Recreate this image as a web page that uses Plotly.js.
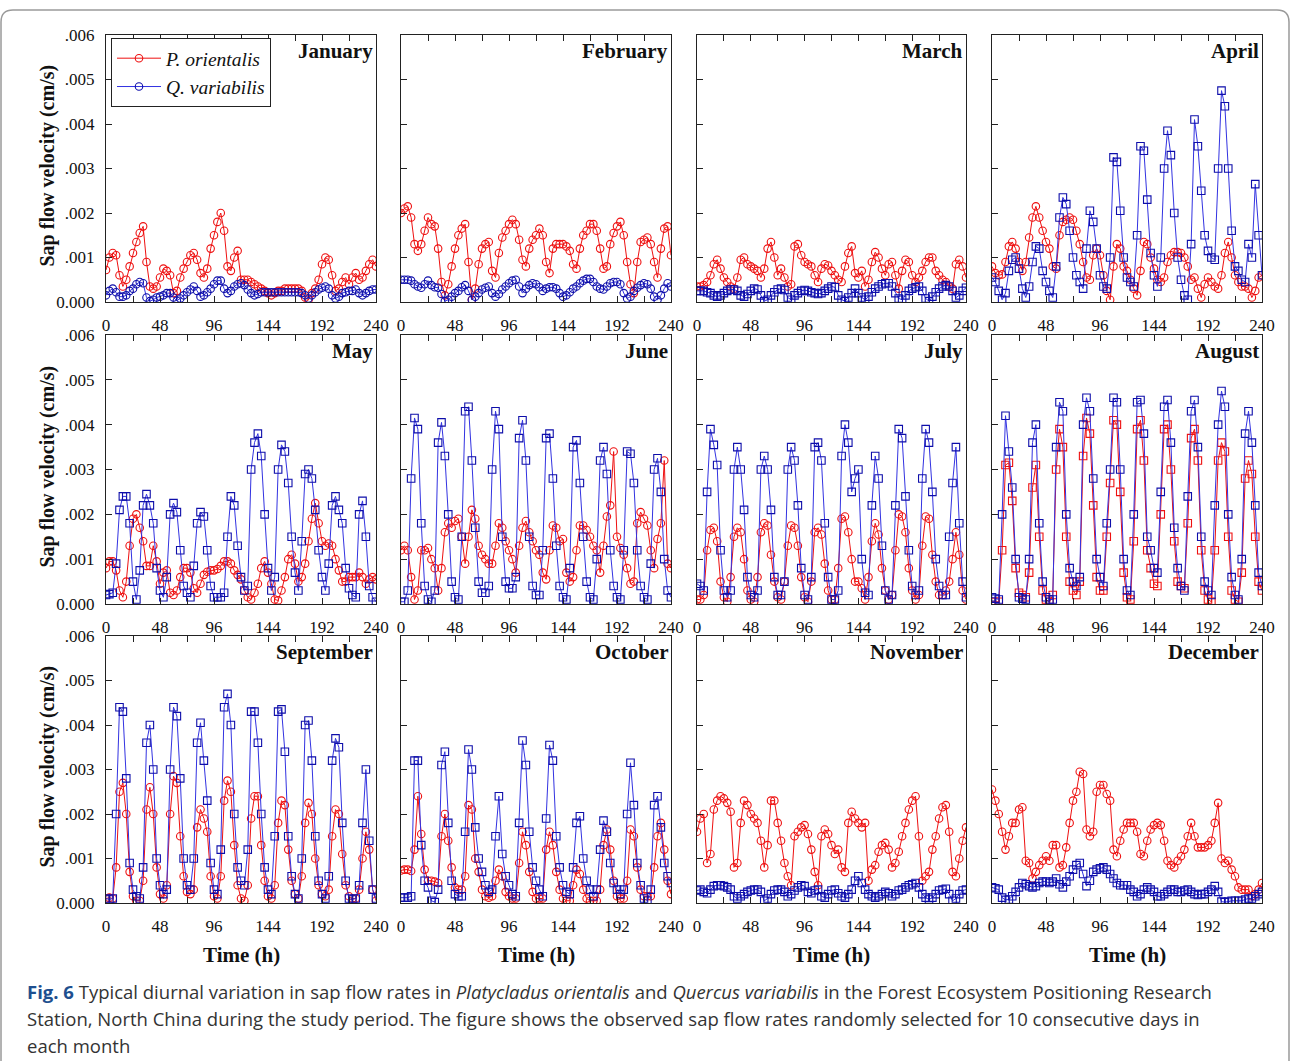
<!DOCTYPE html>
<html>
<head>
<meta charset="utf-8">
<script src="https://cdn.plot.ly/plotly-3.0.1.min.js"></script>
<style>html,body{margin:0;padding:0;background:#fff;}#chart{width:1290px;height:1061px;}</style>
</head>
<body>
<div id="chart"></div>
<script>
// ---- Data (sap flow velocity, cm/s), sampled every 3 h over 10 consecutive days ----
const hours = [0,3,6,9,12,15,18,21,24,27,30,33,36,39,42,45,48,51,54,57,60,63,66,69,72,75,78,81,84,87,90,93,96,99,102,105,108,111,114,117,120,123,126,129,132,135,138,141,144,147,150,153,156,159,162,165,168,171,174,177,180,183,186,189,192,195,198,201,204,207,210,213,216,219,222,225,228,231,234,237,240];

const monthNames = ['January','February','March','April','May','June','July','August','September','October','November','December'];
const seriesNames = ['P. orientalis','Q. variabilis'];
const xTickVals = [0,24,48,72,96,120,144,168,192,216,240];
const xTickLabels = ['0','','48','','96','','144','','192','','240'];
const yTickVals = [0,0.001,0.002,0.003,0.004,0.005,0.006];
const yTickLabels = ['0.000','.001','.002','.003','.004','.005','.006'];

const pJan = [.00072,.001,.0011,.00105,.0006,.00035,.0005,.0008,
.0011,.00135,.00155,.0017,.0009,.00035,.0003,.00035,
.00055,.00075,.0007,.0006,.0002,.00025,.00055,.00075,
.0009,.00105,.0011,.00095,.00065,.00055,.00075,.0012,
.0015,.0018,.002,.0016,.0008,.0007,.001,.00115,
.0005,.0005,.0005,.00045,.0004,.00035,.0003,.00025,
.0002,.00015,.0002,.00025,.00025,.0003,.0003,.0003,
.0003,.0003,.00025,.0001,.00005,.0002,.0003,.0005,
.00085,.001,.00095,.0006,.00025,.0003,.00045,.00055,
.0004,.00055,.00065,.0005,.00055,.0007,.00085,.00095,
.0008];
const qJan = [.00015,.00025,.0003,.00022,.00012,.00012,.00015,.00025,
.0003,.0004,.00045,.00042,.0001,.00002,.00005,.0001,
.00012,.00015,.0002,.0002,.0001,.00003,.00008,.00015,
.00022,.00028,.00035,.00025,.00012,.00015,.00022,.0003,
.0004,.00048,.00048,.0003,.0002,.00025,.00035,.0004,
.00042,.00038,.00028,.0002,.00015,.00018,.00022,.00022,
.00022,.00022,.00022,.00022,.00022,.00022,.00022,.00022,
.00022,.00022,.0002,.00015,.00008,.00015,.00022,.00028,
.00032,.00035,.0003,.00015,.00008,.00012,.0002,.00022,
.00025,.00025,.00028,.0002,.00015,.0002,.00025,.00028,
.00028];
const pFeb = [.002,.0021,.00215,.0019,.0013,.00115,.0013,.0016,
.0019,.00175,.0017,.0012,.00045,.00015,.0004,.0008,
.0012,.0015,.00165,.00175,.0009,.00005,.0003,.00085,
.0012,.0013,.00135,.0007,.00055,.0011,.00145,.0016,
.00175,.00185,.00175,.0014,.00095,.0008,.0012,.0014,
.0015,.00165,.0015,.0009,.00065,.0012,.0013,.0013,
.0013,.00125,.00115,.00085,.00075,.0012,.0015,.0016,
.00175,.00175,.0016,.0012,.00075,.0008,.0013,.00155,
.0017,.0018,.0015,.0009,.0004,.0002,.0009,.00135,
.0014,.00145,.0013,.0009,.00055,.0012,.00165,.0017,
.00105];
const qFeb = [.0005,.0005,.0005,.00048,.0004,.00035,.00032,.0004,
.00048,.00038,.00033,.00032,.00018,.00002,.00005,.00012,
.0002,.00025,.00033,.00038,.00025,.00005,.00012,.0002,
.00028,.00032,.00035,.0002,.00012,.00018,.00028,.00035,
.00042,.00048,.0005,.00035,.0002,.0003,.00038,.00042,
.0004,.00033,.00025,.0003,.00033,.00033,.0003,.0002,
.00012,.00015,.00022,.0003,.00035,.00042,.00048,.00052,
.00052,.00045,.00035,.0003,.00028,.00035,.00042,.00045,
.00045,.0004,.0002,.00008,.00012,.00025,.00032,.00038,
.00042,.0004,.0003,.00012,.00005,.00015,.0003,.00042,
.00035];
const pMar = [.00035,.00035,.00038,.00045,.0006,.00085,.00095,.00075,
.00055,.00045,.00035,.0003,.00055,.00095,.001,.00085,
.0008,.00075,.0007,.00055,.00075,.0012,.00135,.001,
.0006,.00075,.00055,.00035,.0004,.00125,.0013,.00105,
.0009,.00085,.0008,.0006,.00045,.00075,.00085,.00082,
.0007,.0006,.0005,.00045,.0008,.0011,.00125,.00065,
.00055,.0007,.00035,.0005,.0009,.00112,.001,.00075,
.0006,.00085,.0009,.0006,.0003,.0007,.00095,.0009,
.0006,.00045,.00055,.0007,.0009,.001,.001,.0007,
.0006,.0005,.00045,.00035,.0003,.00085,.00095,.0008,
.00055];
const qMar = [.00025,.00025,.00025,.00022,.0002,.00015,.00012,.00015,
.0002,.00025,.00028,.00028,.00025,.00015,.00012,.00018,
.00025,.0003,.00028,.00015,.00002,.00005,.00015,.00022,
.00028,.0003,.00027,.0001,.00005,.00015,.0002,.00025,
.00027,.00025,.00022,.0002,.00018,.0002,.00025,.0003,
.00035,.00033,.00015,.00005,.00002,.0001,.0002,.0003,
.0002,.0001,.00005,.00012,.00022,.0003,.00035,.0004,
.00042,.00042,.00035,.0002,.00008,.00005,.00015,.00025,
.0003,.00033,.00035,.00025,.00008,.00002,.00012,.00022,
.0003,.00035,.00038,.00035,.00025,.0001,.00015,.00025,
.00032];
const pApr = [.0008,.00065,.0006,.00062,.0009,.00125,.00135,.0012,
.0009,.0007,.0009,.00145,.0019,.00215,.0019,.0016,
.00135,.0012,.0008,.00075,.0015,.0018,.00185,.0019,
.00185,.0016,.0013,.0009,.00055,.0005,.00105,.0012,
.00105,.0006,.00025,.00005,.0008,.0013,.0012,.0008,
.0007,.0005,.0003,.00015,.0007,.00135,.0013,.001,
.00075,.0005,.00045,.00055,.0009,.00105,.00112,.00112,
.0011,.001,.0008,.0005,.00055,.0003,.0001,.0004,
.00055,.00045,.00035,.0003,.0006,.0011,.00135,.001,
.0006,.00045,.00035,.00035,.0003,.0001,.00025,.00055,
.0006];
const qApr = [.00055,.00045,.00025,.00005,.0002,.0007,.00095,.001,
.00075,.0003,.0001,.00035,.0009,.00125,.0012,.0007,
.00045,.00025,.0001,.0008,.0019,.00235,.0022,.0016,
.001,.0006,.00045,.0003,.0012,.00205,.0018,.0012,
.0006,.00035,.0003,.001,.00325,.00315,.00205,.001,
.00055,.00045,.00035,.0015,.0035,.0034,.0023,.0011,
.0006,.00035,.001,.003,.00385,.0033,.002,.001,
.0005,.00015,.00005,.0013,.0041,.0035,.0025,.0015,
.00115,.001,.00095,.003,.00475,.0044,.003,.0016,
.0008,.0007,.0005,.00045,.0013,.001,.00265,.0015,
.0006];
const pMay = [.0008,.00095,.00095,.00075,.0003,.00015,.0005,.0013,
.0019,.002,.0017,.0014,.00085,.00085,.0013,.00095,
.00045,.0007,.00075,.00025,.0002,.0003,.0006,.0008,
.0008,.0007,.00035,.00025,.00045,.00065,.00072,.00075,
.00075,.00078,.00085,.00095,.00095,.0009,.00075,.00065,
.00055,.0003,.00015,.0001,.00025,.00045,.0008,.00095,
.0007,.00045,.0001,.00008,.0003,.0006,.001,.0011,
.0009,.0005,.0006,.0009,.0014,.0019,.00225,.0018,
.0014,.0013,.00135,.0013,.001,.00075,.0005,.0005,
.0006,.0006,.0006,.0007,.0006,.00045,.00055,.0006,
.00055];
const qMay = [.0002,.00022,.00025,.0009,.0021,.0024,.0024,.0018,
.0005,.0001,.00075,.0022,.00245,.0022,.0018,.0008,
.0003,.00015,.0006,.002,.00225,.00205,.0012,.0004,
.00025,.00015,.00085,.0018,.00205,.00195,.0012,.0004,
.00015,.00015,.00015,.00025,.0015,.0024,.0022,.0013,
.0006,.0003,.0004,.003,.0036,.0038,.0033,.002,
.0008,.0003,.0006,.003,.00355,.0034,.0027,.0015,
.0007,.0003,.0014,.0029,.003,.0028,.0021,.0012,
.0006,.0003,.0009,.0022,.0024,.0021,.0018,.0008,
.00035,.0002,.00015,.002,.0023,.0015,.0004,.00015,
.00005];
const pJun = [.0012,.0013,.0012,.0006,.0001,.0003,.0012,.0012,
.00125,.001,.0008,.0003,.0008,.0016,.0018,.0017,
.00185,.0019,.0015,.0009,.0015,.0021,.0019,.0013,
.0011,.001,.0009,.0009,.0013,.0018,.0017,.0014,
.0012,.001,.0007,.0013,.0017,.00185,.0016,.0014,
.0012,.0011,.0007,.00055,.0012,.00175,.0017,.0014,
.00145,.0007,.0005,.0006,.0012,.00175,.00175,.00165,
.0015,.0013,.0012,.0007,.0013,.00195,.0022,.0034,
.0015,.00125,.0011,.0008,.00045,.0005,.0018,.00205,
.0019,.00175,.0012,.0008,.00145,.0018,.0032,.0009,
.0008];
const qJun = [.00005,.00005,.0003,.0028,.00415,.0039,.0018,.0004,
.0001,.00005,.0003,.0036,.00405,.0033,.002,.0005,
.00015,.0001,.0015,.0043,.0044,.0032,.0017,.0005,
.00025,.00025,.0004,.003,.0043,.0039,.0015,.0005,
.00035,.00035,.0006,.0037,.0041,.0032,.0015,.0004,
.0002,.0002,.0012,.0037,.0038,.0028,.0013,.0004,
.00015,.0001,.0008,.0035,.00365,.0027,.0015,.0005,
.00015,.0001,.001,.0032,.0035,.0029,.0012,.0004,
.00015,.0001,.0012,.0034,.00335,.0027,.0012,.0004,
.00015,.0001,.0009,.003,.00325,.0025,.001,.0003,
.00015];
const pJul = [.0001,.0001,.0002,.0012,.00165,.0017,.0014,.0005,
.00015,.00005,.0006,.0015,.0017,.0016,.001,.0003,
.0001,.00005,.0006,.0016,.0018,.00175,.0011,.0005,
.00015,.0001,.0005,.0013,.00175,.0017,.0013,.0006,
.00015,.00005,.0005,.0016,.0017,.00155,.0009,.0003,
.0001,.0001,.0008,.0019,.00195,.0016,.001,.0005,
.0005,.00035,.0001,.0006,.0014,.0018,.00155,.0008,
.0003,.0001,.0002,.0012,.002,.00195,.0016,.0008,
.0003,.0001,.0002,.0013,.00195,.0019,.0011,.0005,
.0002,.0002,.0003,.0005,.001,.0016,.0011,.0003,
.0001];
const qJul = [.00045,.0004,.0003,.0025,.0039,.00355,.0031,.0012,
.0003,.00015,.0003,.003,.0035,.003,.0021,.0006,
.0002,.00015,.0003,.003,.0033,.003,.0021,.0006,
.0002,.0002,.0005,.003,.0035,.0032,.0022,.0008,
.0002,.0001,.0006,.0035,.0036,.0032,.0018,.0006,
.0001,.0001,.0003,.0033,.004,.0036,.0025,.0028,
.003,.001,.00025,.0002,.0022,.0033,.0028,.0013,
.0003,.0001,.0002,.0022,.0039,.0037,.0024,.0012,
.0004,.0002,.0003,.0028,.0039,.0036,.0025,.001,
.0004,.0002,.0002,.0015,.0027,.0035,.0018,.0005,
.00015];
const pAug = [.00005,.00005,.00005,.0012,.0031,.00315,.0023,.0008,
.00025,.0002,.00015,.0007,.0026,.0031,.0015,.0003,
.0001,.00005,.0002,.003,.0039,.0035,.0015,.0005,
.0003,.0002,.0005,.0033,.00415,.0038,.0022,.0006,
.0003,.0003,.0015,.0027,.0041,.004,.0025,.0007,
.00015,.0001,.0014,.0039,.0041,.0032,.0012,.0008,
.00045,.0004,.002,.0039,.004,.003,.0014,.0005,
.0004,.00035,.0018,.0037,.0039,.0032,.0012,.0003,
.0001,.00005,.0012,.0032,.0036,.0034,.0015,.0003,
.0001,.00005,.0007,.0028,.0032,.0029,.0015,.0005,
.0003];
const qAug = [.00015,.00012,.0001,.002,.0042,.0034,.0026,.001,
.00015,.00012,.0001,.001,.0036,.004,.0018,.0005,
.00015,.0001,.0001,.0035,.0045,.0043,.002,.0008,
.0005,.0004,.0006,.004,.0046,.0043,.0028,.001,
.0006,.0004,.0018,.003,.0046,.0045,.003,.001,
.0003,.0002,.002,.0045,.00455,.0038,.0015,.0012,
.0008,.0007,.0025,.0044,.00455,.0036,.0017,.0008,
.0004,.0003,.0024,.0043,.00455,.0035,.0015,.0005,
.0003,.0002,.0022,.004,.00475,.0044,.002,.0006,
.0002,.0001,.001,.0038,.0043,.0036,.0022,.0007,
.0004];
const pSep = [.0001,.00012,.0001,.0008,.0025,.0027,.002,.0007,
.00015,.00005,.00005,.0005,.0021,.0026,.002,.0008,
.0002,.0001,.0004,.002,.00285,.0027,.0015,.0006,
.00025,.0002,.0003,.0017,.0021,.0019,.0016,.0006,
.00015,.0001,.0006,.0023,.00275,.0025,.0013,.0004,
.0001,.00005,.0004,.0019,.0024,.0024,.0013,.0005,
.00015,.0001,.0004,.0018,.0023,.0022,.0012,.0005,
.0002,.0001,.0006,.0018,.00225,.002,.001,.0004,
.0002,.00015,.0003,.0015,.0021,.002,.0011,.0004,
.00015,.0001,.0001,.0003,.001,.0016,.0012,.0003,
.00005];
const qSep = [.0001,.00008,.0001,.002,.0044,.0043,.0028,.0009,
.0003,.00015,.0001,.0008,.0036,.004,.003,.001,
.0004,.0002,.0003,.003,.0044,.0042,.0028,.001,
.0004,.0003,.001,.0036,.00405,.0032,.0023,.0009,
.0003,.0002,.0012,.0044,.0047,.004,.002,.0008,
.0005,.0004,.0012,.0043,.0043,.0036,.002,.0008,
.0003,.0002,.0015,.0043,.00435,.0034,.0015,.0006,
.0002,.0001,.001,.004,.0041,.0032,.0015,.0005,
.0002,.0001,.0006,.0032,.0037,.0035,.0018,.0005,
.0001,.00008,.0001,.0004,.0018,.003,.0014,.0003,
.0001];
const pOct = [.00073,.00075,.00075,.00072,.0012,.0024,.00155,.00075,
.0005,.0005,.00048,.00045,.0015,.002,.0014,.0008,
.00035,.0003,.0003,.0006,.0022,.0021,.001,.0007,
.0003,.00015,.00012,.00015,.0005,.00075,.0006,.00025,
.00015,.0001,.0001,.0009,.0016,.0013,.0007,.00025,
.0001,.0001,.0001,.0012,.0016,.0013,.0007,.0003,
.0001,.00005,.00005,.0004,.00075,.00065,.0003,.0001,
.00005,.00005,.00005,.0003,.0013,.00165,.0012,.0005,
.00015,.0001,.0001,.0005,.00165,.0015,.0008,.0003,
.00015,.00015,.00015,.0008,.0015,.0018,.0012,.0005,
.0002];
const qOct = [.00012,.00012,.00012,.00015,.0032,.0032,.0013,.0005,
.00035,.00005,.00002,.0003,.0031,.0034,.0018,.0005,
.0002,.00015,.00015,.0016,.00345,.003,.0017,.001,
.0007,.0004,.00025,.0003,.0015,.0024,.0011,.0006,
.0004,.0002,.00015,.0018,.00365,.0031,.0016,.0008,
.0005,.0003,.00015,.0019,.00355,.0032,.0015,.0008,
.0004,.00025,.0002,.0008,.0018,.00195,.001,.0005,
.0003,.00015,.0003,.0012,.00185,.0016,.0009,.00045,
.0003,.0002,.0003,.002,.00315,.0022,.0009,.0004,
.0001,.00005,.0003,.0022,.0024,.0017,.0009,.0006,
.00045];
const pNov = [.0016,.0019,.002,.0009,.0011,.0021,.0023,.0024,
.00235,.00225,.00205,.0008,.0009,.0018,.0023,.0022,
.002,.0019,.0018,.0014,.0008,.0013,.0023,.0023,
.0018,.0014,.0009,.0006,.0004,.0015,.0016,.0017,
.00175,.00155,.0012,.0007,.0004,.0015,.00165,.00155,
.0013,.0011,.0012,.0008,.0007,.0018,.00205,.0019,
.0018,.0017,.0018,.0005,.00075,.00085,.00115,.0013,
.00135,.0012,.0008,.0009,.00115,.0015,.0018,.0021,
.0023,.0024,.0015,.0005,.0006,.0007,.0012,.0015,
.0019,.00215,.0022,.0016,.0007,.0006,.001,.0014,
.0017];
const qNov = [.00028,.0003,.00025,.00022,.0003,.00038,.0004,.0004,
.00038,.00035,.0003,.00015,.0001,.00015,.0002,.00025,
.00028,.0003,.0003,.00025,.00005,.0001,.0002,.00028,
.0003,.0003,.00025,.00015,.0002,.00028,.00035,.0004,
.00038,.00025,.00022,.00028,.0003,.00015,.00012,.0002,
.00028,.0003,.00022,.00015,.00012,.0002,.0003,.0005,
.0006,.00045,.0003,.0002,.00015,.00012,.00015,.0002,
.00025,.00022,.00015,.0002,.00028,.0003,.00035,.0004,
.00042,.00045,.00035,.0002,.00012,.00008,.00012,.0002,
.00028,.0003,.00032,.0002,.00005,.0001,.0002,.00028,
.0003];
const pDec = [.00255,.0023,.002,.0016,.0012,.0015,.0018,.0018,
.0021,.00215,.00095,.0009,.00055,.0007,.00085,.00095,
.00105,.00095,.0013,.0013,.0008,.00085,.00125,.0018,
.0023,.0025,.00295,.0029,.00165,.0015,.0016,.0025,
.00265,.00265,.00245,.0023,.0012,.00105,.0014,.00165,
.0018,.0018,.0018,.0016,.0011,.00105,.0014,.00165,
.00175,.0018,.00175,.0014,.00095,.00085,.0008,.00095,
.00105,.0012,.0015,.0018,.0015,.00125,.00125,.00125,
.0013,.0014,.0018,.00225,.001,.0009,.00095,.00075,
.0006,.00035,.0003,.0003,.0003,.00015,.0002,.0003,
.00045];
const qDec = [.00035,.00033,.0003,.00012,.00007,.00008,.00015,.00025,
.00035,.00045,.00042,.00038,.00035,.00038,.00045,.00048,
.00048,.00045,.00048,.00055,.00042,.00035,.00048,.0006,
.00075,.00085,.0009,.00065,.00038,.0005,.0007,.00075,
.00078,.0008,.00075,.00065,.00055,.00045,.0004,.0004,
.0004,.0003,.00025,.00015,.0002,.0003,.00035,.0003,
.00025,.00015,.00015,.0002,.00025,.0003,.0003,.00025,
.00025,.00028,.0003,.00025,.0002,.00018,.0002,.0002,
.00025,.0003,.00038,.00025,.00003,.00002,.00003,.00005,
.00005,.00005,.00005,.00008,.0001,.0001,.00015,.0002,
.00025];

const pSeries = [pJan,pFeb,pMar,pApr,pMay,pJun,pJul,pAug,pSep,pOct,pNov,pDec];
const qSeries = [qJan,qFeb,qMar,qApr,qMay,qJun,qJul,qAug,qSep,qOct,qNov,qDec];
// marker shapes used for each month in the original figure
const pSymbols = ['circle-open','circle-open','circle-open','circle-open','circle-open','circle-open','circle-open','square-open','circle-open','circle-open','circle-open','circle-open'];
const qSymbols = ['circle-open','circle-open','square-open','square-open','square-open','square-open','square-open','square-open','square-open','square-open','square-open','square-open'];

// ---- Layout geometry (pixels of the 1290x1061 page) ----
const W = 1290, H = 1061;
const px = x => x / W, py = y => 1 - y / H;
const colX = [[106,376],[401,671],[697,966],[992,1262]];
const rowY = [[35,302],[335,604],[636,903]];
const SERIF = "'Liberation Serif','Times New Roman',serif";
const RED = 'rgb(238,16,16)';
const BLUE_M = 'rgb(14,14,170)';
const BLUE_L = 'rgb(50,50,225)';

const traces = [];
const layout = {
  width: W, height: H,
  margin: {l:0, r:0, t:0, b:0},
  paper_bgcolor: '#fff', plot_bgcolor: '#fff',
  showlegend: true,
  legend: {
    x: px(111), y: py(38), xanchor: 'left', yanchor: 'top',
    bgcolor: '#fff', bordercolor: '#222', borderwidth: 1,
    font: {family: SERIF, size: 19.5, color: '#111'},
    itemwidth: 44, tracegroupgap: 0
  },
  annotations: [],
  shapes: []
};

for (let i = 0; i < 12; i++) {
  const r = Math.floor(i / 4), c = i % 4, n = i + 1;
  const xa = 'xaxis' + (n === 1 ? '' : n), ya = 'yaxis' + (n === 1 ? '' : n);
  const xr = 'x' + (n === 1 ? '' : n), yr = 'y' + (n === 1 ? '' : n);
  layout[xa] = {
    domain: [px(colX[c][0]), px(colX[c][1])], anchor: yr,
    range: [0, 240], tickmode: 'array', tickvals: xTickVals, ticktext: xTickLabels,
    ticks: 'inside', ticklen: 6, tickwidth: 1, tickcolor: '#222',
    showline: true, linecolor: '#222', linewidth: 1, mirror: 'ticks',
    showgrid: false, zeroline: false, fixedrange: true,
    tickfont: {family: SERIF, size: 17, color: '#111'}, ticklabelstandoff: 8
  };
  layout[ya] = {
    domain: [py(rowY[r][1]), py(rowY[r][0])], anchor: xr,
    range: [0, 0.006], tickmode: 'array', tickvals: yTickVals, ticktext: yTickLabels,
    showticklabels: c === 0,
    ticks: 'inside', ticklen: 6, tickwidth: 1, tickcolor: '#222',
    showline: true, linecolor: '#222', linewidth: 1, mirror: true,
    showgrid: false, zeroline: false, fixedrange: true,
    tickfont: {family: SERIF, size: 17, color: '#111'}, ticklabelstandoff: 7
  };
  traces.push({
    type: 'scatter', mode: 'lines+markers', x: hours, y: pSeries[i],
    xaxis: xr, yaxis: yr, name: '<i>' + seriesNames[0] + '</i>', showlegend: i === 0,
    line: {color: RED, width: 1},
    marker: {symbol: pSymbols[i], size: 7.5, color: RED, line: {width: 1.1, color: RED}}
  });
  traces.push({
    type: 'scatter', mode: 'lines+markers', x: hours, y: qSeries[i],
    xaxis: xr, yaxis: yr, name: '<i>' + seriesNames[1] + '</i>', showlegend: i === 0,
    line: {color: BLUE_L, width: 1},
    marker: {symbol: qSymbols[i], size: 7.5, color: BLUE_M, line: {width: 1.1, color: BLUE_M}}
  });
  // month label, top-right inside each panel
  layout.annotations.push({
    xref: 'paper', yref: 'paper', x: px(colX[c][1] - 1), y: py(rowY[r][0] + 16),
    xanchor: 'right', yanchor: 'middle', showarrow: false,
    text: '<b>' + monthNames[i] + '</b>', font: {family: SERIF, size: 21, color: '#111'}
  });
}

// axis titles
for (let r = 0; r < 3; r++) {
  layout.annotations.push({
    xref: 'paper', yref: 'paper', x: px(47), y: py((rowY[r][0] + rowY[r][1]) / 2 - 3),
    xanchor: 'center', yanchor: 'middle', textangle: -90, showarrow: false,
    text: '<b>Sap flow velocity (cm/s)</b>', font: {family: SERIF, size: 20, color: '#111'}
  });
}
for (let c = 0; c < 4; c++) {
  layout.annotations.push({
    xref: 'paper', yref: 'paper', x: px((colX[c][0] + colX[c][1]) / 2), y: py(955),
    xanchor: 'center', yanchor: 'middle', showarrow: false,
    text: '<b>Time (h)</b>', font: {family: SERIF, size: 21, color: '#111'}
  });
}

// caption
const CAP = "'Open Sans','Noto Sans',sans-serif";
const captionLines = [
  "<b><span style='color:#1e4f8f'>Fig. 6</span></b> Typical diurnal variation in sap flow rates in <i>Platycladus orientalis</i> and <i>Quercus variabilis</i> in the Forest Ecosystem Positioning Research",
  "Station, North China during the study period. The figure shows the observed sap flow rates randomly selected for 10 consecutive days in",
  "each month"
];
[991, 1018, 1045].forEach((yy, k) => {
  layout.annotations.push({
    xref: 'paper', yref: 'paper', x: px(25), y: py(yy),
    xanchor: 'left', yanchor: 'middle', align: 'left', showarrow: false,
    text: captionLines[k], font: {family: CAP, size: 18.5, color: '#333'}
  });
});

// rounded frame of the figure box
const f = (x, y) => px(x).toFixed(5) + ',' + py(y).toFixed(5);
layout.shapes.push({
  type: 'path', xref: 'paper', yref: 'paper',
  path: 'M ' + f(1, 1080) + ' L ' + f(1, 22) + ' Q ' + f(1, 10) + ' ' + f(13, 10) +
        ' L ' + f(1277, 10) + ' Q ' + f(1289, 10) + ' ' + f(1289, 22) + ' L ' + f(1289, 1080),
  line: {color: '#9a9a9a', width: 1.5}
});

Plotly.newPlot('chart', traces, layout, {displayModeBar: false, staticPlot: true});
</script>
</body>
</html>
